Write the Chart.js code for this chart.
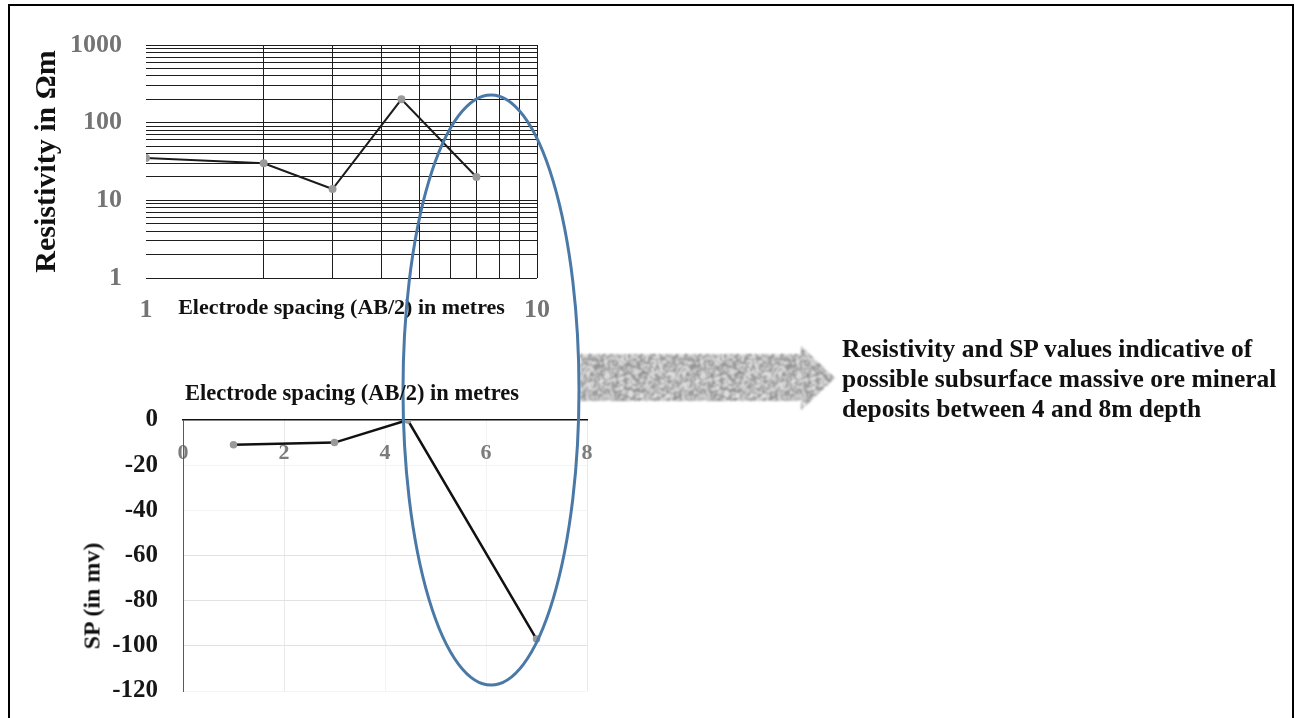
<!DOCTYPE html>
<html>
<head>
<meta charset="utf-8">
<title>Resistivity and SP sounding</title>
<script src="https://cdn.jsdelivr.net/npm/chart.js@4.4.1/dist/chart.umd.min.js"></script>
<style>
  html, body { margin: 0; padding: 0; background: #fff; }
  body { width: 1295px; height: 718px; position: relative; overflow: hidden;
         font-family: "Liberation Serif", "Times New Roman", serif; }
  .frame { position: absolute; left: 8px; top: 4px; width: 1286px; height: 730px;
           border-left: 2px solid #000; border-top: 2px solid #000; border-right: 2px solid #000;
           box-sizing: border-box; }
  #resBox { position: absolute; left: 0; top: 0; width: 560px; height: 340px; }
  #spBox  { position: absolute; left: 0; top: 380px; width: 620px; height: 330px; }
  #overlay { position: absolute; left: 0; top: 0; pointer-events: none; }
  .txt { position: absolute; font-weight: bold; white-space: nowrap; color: #111; }
  #note { left: 842px; top: 334px; font-size: 25.5px; line-height: 30px; }
  #spX  { left: 352px; top: 393px; font-size: 22.5px; transform: translate(-50%, -50%); }
  #spY  { left: 92px; top: 596px; font-size: 24px; transform: translate(-50%, -50%) rotate(-90deg); }
</style>
</head>
<body>
<div class="frame"></div>
<div id="resBox"><canvas id="resChart" width="560" height="340"></canvas></div>
<div id="spBox"><canvas id="spChart" width="620" height="330"></canvas></div>
<canvas id="overlay" width="1295" height="718"></canvas>
<div class="txt" id="spX">Electrode spacing (AB/2) in metres</div>
<div class="txt" id="spY">SP (in mv)</div>
<div class="txt" id="note">Resistivity and SP values indicative of<br>possible subsurface massive ore mineral<br>deposits between 4 and 8m depth</div>

<script>
// ---- Resistivity sounding (log-log) ----
const resSpacing = [1, 2, 3, 4.5, 7];          // AB/2 in metres
const resValues  = [35, 30, 14, 200, 20];      // apparent resistivity, ohm-m
const resGridX   = [1, 2, 3, 4, 5, 6, 7, 8, 9, 10];
const resGridY   = [1, 2, 3, 4, 5, 6, 7, 8, 9,
                    10, 20, 30, 40, 50, 60, 70, 80, 90,
                    100, 200, 300, 400, 500, 600, 700, 800, 900, 1000];
const resLabelsX = [1, 10];
const resLabelsY = [1, 10, 100, 1000];

// ---- Self-potential profile ----
const spSpacing = [1, 3, 4.45, 7];             // AB/2 in metres
const spValues  = [-11, -10, 0, -97];          // SP in mV
const spTicksX  = [0, 2, 4, 6, 8];
const spTicksY  = [0, -20, -40, -60, -80, -100, -120];

const SERIF = '"Liberation Serif", "Times New Roman", serif';

// keep label overhang from shrinking the plot area
const noPadX = s => { s.paddingLeft = 0; s.paddingRight = 0; };
const noPadY = s => { s.paddingTop = 0; s.paddingBottom = 0; };

new Chart(document.getElementById('resChart'), {
  type: 'line',
  data: {
    datasets: [{
      data: resSpacing.map((x, i) => ({ x: x, y: resValues[i] })),
      borderColor: '#1c1c1c',
      borderWidth: 2,
      pointRadius: 3,
      pointBackgroundColor: '#9a9a9a',
      pointBorderColor: '#9a9a9a',
      tension: 0
    }]
  },
  options: {
    responsive: false,
    animation: false,
    layout: { padding: { top: 45, right: 23, bottom: 0, left: 0 } },
    plugins: { legend: { display: false }, tooltip: { enabled: false } },
    scales: {
      x: {
        type: 'logarithmic', min: 1, max: 10, position: 'bottom',
        afterBuildTicks: s => { s.ticks = resGridX.map(v => ({ value: v })); },
        afterFit: s => { s.height = 62; noPadX(s); },
        grid: { color: c => (c.tick && c.tick.value === 1) ? 'rgba(0,0,0,0)' : '#1e1e1e', lineWidth: 1, drawTicks: false },
        border: { display: false },
        ticks: {
          padding: 17, autoSkip: false, maxRotation: 0, color: '#747474',
          font: { family: SERIF, size: 26, weight: 'bold' },
          callback: v => resLabelsX.includes(v) ? String(v) : ''
        },
        title: {
          display: true, text: 'Electrode spacing (AB/2) in metres', color: '#111',
          font: { family: SERIF, size: 22, weight: 'bold' },
          padding: { top: 0, bottom: 18 }
        }
      },
      y: {
        type: 'logarithmic', min: 1, max: 1000,
        afterBuildTicks: s => { s.ticks = resGridY.map(v => ({ value: v })); },
        afterFit: s => { s.width = 146; noPadY(s); },
        grid: { color: '#1e1e1e', lineWidth: 1, drawTicks: false },
        border: { display: false },
        ticks: {
          padding: 24, autoSkip: false, color: '#747474',
          font: { family: SERIF, size: 26, weight: 'bold' },
          callback: v => resLabelsY.includes(v) ? String(v) : ''
        },
        title: {
          display: true, text: 'Resistivity in Ωm', color: '#111',
          font: { family: SERIF, size: 30, weight: 'bold' },
          padding: { top: 29, bottom: 0 }
        }
      }
    }
  }
});

new Chart(document.getElementById('spChart'), {
  type: 'line',
  data: {
    datasets: [{
      data: spSpacing.map((x, i) => ({ x: x, y: spValues[i] })),
      borderColor: '#111',
      borderWidth: 2.5,
      pointRadius: 2.5,
      pointBackgroundColor: '#9a9a9a',
      pointBorderColor: '#9a9a9a',
      tension: 0
    }]
  },
  options: {
    responsive: false,
    animation: false,
    layout: { padding: { top: 40, right: 33, bottom: 19, left: 0 } },
    plugins: { legend: { display: false }, tooltip: { enabled: false } },
    scales: {
      x: {
        type: 'linear', min: 0, max: 8, position: { y: 0 },
        afterBuildTicks: s => { s.ticks = spTicksX.map(v => ({ value: v })); },
        afterFit: s => { s.height = 0; noPadX(s); },
        grid: {
          drawTicks: false, lineWidth: 1,
          color: c => {
            const v = c.tick ? c.tick.value : null;
            if (v === 0) return 'rgba(0,0,0,0)';
            if (v === 2 || v === 8) return '#e9e9e9';
            return '#f3f3f3';
          }
        },
        border: { display: true, color: '#111', width: 1.5 },
        ticks: {
          padding: 20, autoSkip: false, maxRotation: 0, color: '#7c7c7c',
          font: { family: SERIF, size: 22, weight: 'bold' }
        }
      },
      y: {
        type: 'linear', min: -120, max: 0,
        afterBuildTicks: s => { s.ticks = spTicksY.map(v => ({ value: v })); },
        afterFit: s => { s.width = 183; noPadY(s); },
        grid: {
          drawTicks: false, lineWidth: 1,
          color: c => {
            const v = c.tick ? c.tick.value : null;
            if (v === 0) return 'rgba(0,0,0,0)';
            if (v <= -60 && v >= -100) return '#e2e2e2';
            return '#f4f4f4';
          }
        },
        border: { display: true, color: '#5a5a5a', width: 1 },
        ticks: {
          padding: 25, autoSkip: false, color: '#161616',
          font: { family: SERIF, size: 25, weight: 'bold' }
        }
      }
    }
  }
});

// ---- Annotation layer: highlighted zone and pointer arrow ----
(function () {
  const cv = document.getElementById('overlay');
  const ctx = cv.getContext('2d');

  // speckled grey texture for the arrow (2x2 cells)
  const N = 48;
  const tile = document.createElement('canvas');
  tile.width = N * 2; tile.height = N * 2;
  const tctx = tile.getContext('2d');
  for (let j = 0; j < N; j++) {
    for (let i = 0; i < N; i++) {
      let h = (i * 374761393 + j * 668265263) | 0;
      h = Math.imul(h ^ (h >>> 13), 1274126177);
      h = (h ^ (h >>> 16)) >>> 0;
      const g = 135 + (h % 105);
      tctx.fillStyle = 'rgb(' + g + ',' + g + ',' + g + ')';
      tctx.fillRect(i * 2, j * 2, 2, 2);
    }
  }

  ctx.save();
  ctx.filter = 'blur(0.8px)';
  ctx.fillStyle = ctx.createPattern(tile, 'repeat');
  ctx.beginPath();
  ctx.moveTo(580, 354);
  ctx.lineTo(801, 354);
  ctx.lineTo(801, 346);
  ctx.lineTo(835, 378);
  ctx.lineTo(801, 410);
  ctx.lineTo(801, 401);
  ctx.lineTo(580, 401);
  ctx.closePath();
  ctx.fill();
  ctx.restore();

  ctx.save();
  ctx.strokeStyle = '#4a79a7';
  ctx.lineWidth = 3;
  ctx.beginPath();
  ctx.ellipse(491, 390, 88, 295, 0, 0, Math.PI * 2);
  ctx.stroke();
  ctx.restore();
})();
</script>
</body>
</html>
